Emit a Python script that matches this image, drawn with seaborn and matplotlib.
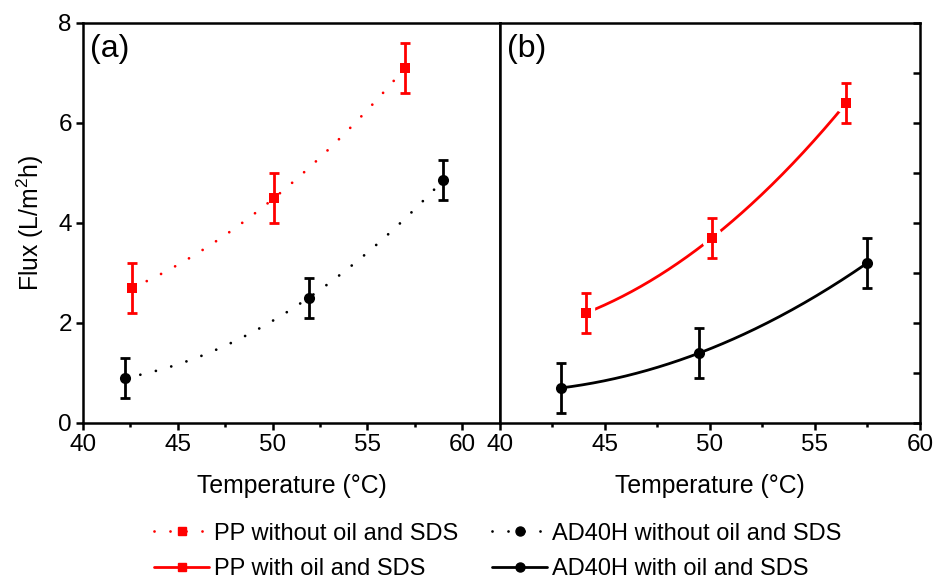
import numpy as np
import pandas as pd
import matplotlib
matplotlib.use("Agg")
import matplotlib.pyplot as plt
from matplotlib.lines import Line2D
from matplotlib.ticker import MultipleLocator
import seaborn as sns

# ---- data ----
# panel (a): without oil and SDS
pp_a_T = [42.6, 50.1, 57.0]
pp_a_flux = [2.7, 4.5, 7.1]
pp_a_err = [0.5, 0.5, 0.5]
ad_a_T = [42.2, 51.9, 59.0]
ad_a_flux = [0.9, 2.5, 4.85]
ad_a_err = [0.4, 0.4, 0.4]
# panel (b): with oil and SDS
pp_b_T = [44.1, 50.1, 56.5]
pp_b_flux = [2.2, 3.7, 6.4]
pp_b_err = [0.4, 0.4, 0.4]
ad_b_T = [42.9, 49.5, 57.5]
ad_b_flux = [0.7, 1.4, 3.2]
ad_b_err = [0.5, 0.5, 0.5]

legend_labels = ["PP without oil and SDS", "PP with oil and SDS",
                 "AD40H without oil and SDS", "AD40H with oil and SDS"]

sns.set_theme(style="ticks")
plt.rcParams["font.family"] = ["Liberation Sans", "DejaVu Sans"]
plt.rcParams["mathtext.fontset"] = "custom"
plt.rcParams["mathtext.rm"] = "Liberation Sans"
for k in ("text.color", "axes.labelcolor", "xtick.color", "ytick.color", "axes.edgecolor"):
    plt.rcParams[k] = "black"

RED = "#ff0000"
BLACK = "#000000"
LW = 2.0
DOT = (0, (0.01, 11.5 / LW))
SQ_S, CI_S = 50, 64


def fit_curve(x, y):
    """smooth fitted curve through the measured points"""
    c = np.polyfit(x, y, 2)
    xs = np.linspace(min(x), max(x), 200)
    return pd.DataFrame({"T": xs, "flux": np.polyval(c, xs)})


def draw_series(ax, T, flux, err, color, marker, s, dotted, halo=False):
    fit = fit_curve(T, flux)
    sns.lineplot(data=fit, x="T", y="flux", ax=ax, color=color, lw=LW,
                 zorder=2, legend=False)
    ln = ax.lines[-1]
    if dotted:
        ln.set_linestyle(DOT)
        ln.set_dash_capstyle("round")
    pts = pd.DataFrame({"T": T, "flux": flux})
    if halo:
        sns.scatterplot(data=pts, x="T", y="flux", ax=ax, color="white", marker=marker,
                        s=s, edgecolor="white", linewidth=6, zorder=2.5, legend=False)
    ax.errorbar(T, flux, yerr=err, fmt="none", ecolor=color, elinewidth=2.0,
                capsize=3.4, capthick=2.0, zorder=3)
    sns.scatterplot(data=pts, x="T", y="flux", ax=ax, color=color, marker=marker,
                    s=s, edgecolor=color, linewidth=0, zorder=4, legend=False)


fig = plt.figure(figsize=(9.46, 5.80), dpi=100)
ax1 = fig.add_axes([0.0877, 0.2707, 0.4408, 0.6902])
ax2 = fig.add_axes([0.5285, 0.2707, 0.4440, 0.6902])

draw_series(ax1, pp_a_T, pp_a_flux, pp_a_err, RED, "s", SQ_S, True)
draw_series(ax1, ad_a_T, ad_a_flux, ad_a_err, BLACK, "o", CI_S, True)
draw_series(ax2, pp_b_T, pp_b_flux, pp_b_err, RED, "s", SQ_S, False, halo=True)
draw_series(ax2, ad_b_T, ad_b_flux, ad_b_err, BLACK, "o", CI_S, False)

TICK_FS = 17.5
LABEL_FS = 17.8

# panel (a) axes
ax1.set_xlim(40, 62)
ax1.set_ylim(0, 8)
ax1.set_xticks([40, 45, 50, 55, 60])
ax1.xaxis.set_minor_locator(MultipleLocator(2.5))
ax1.yaxis.set_major_locator(MultipleLocator(2))
ax1.tick_params(axis="both", which="major", direction="out", length=5, width=1.8,
                labelsize=TICK_FS, pad=3)
ax1.tick_params(axis="x", which="minor", direction="out", length=3, width=1.8)
ax1.tick_params(axis="y", which="minor", length=0)
ax1.set_xlabel("Temperature (°C)", fontsize=LABEL_FS, labelpad=13)
ax1.set_ylabel(r"Flux (L/m$^{\mathregular{2}}$h)", fontsize=LABEL_FS, labelpad=9)

# panel (b) axes
ax2.set_xlim(40, 60)
ax2.set_ylim(0, 8)
ax2.xaxis.set_major_locator(MultipleLocator(5))
ax2.xaxis.set_minor_locator(MultipleLocator(2.5))
ax2.yaxis.tick_right()
ax2.yaxis.set_major_locator(MultipleLocator(1))
ax2.tick_params(axis="x", which="major", direction="out", length=5, width=1.8,
                labelsize=TICK_FS, pad=3)
ax2.tick_params(axis="x", which="minor", direction="out", length=3, width=1.8)
ax2.tick_params(axis="y", which="both", direction="in", length=5, width=1.8,
                right=True, left=False, labelright=False, labelleft=False)
ax2.set_xlabel("Temperature (°C)", fontsize=LABEL_FS, labelpad=13)
ax2.set_ylabel("")

for ax in (ax1, ax2):
    for sp in ax.spines.values():
        sp.set_visible(True)
        sp.set_linewidth(1.8)
        sp.set_color("black")

ax1.text(0.017, 0.972, "(a)", transform=ax1.transAxes, fontsize=23, va="top", ha="left")
ax2.text(0.017, 0.972, "(b)", transform=ax2.transAxes, fontsize=23, va="top", ha="left")

handles = [
    Line2D([], [], color=RED, ls=DOT, lw=LW, marker="s", ms=6, dash_capstyle="round"),
    Line2D([], [], color=RED, ls="-", lw=LW, marker="s", ms=6),
    Line2D([], [], color=BLACK, ls=DOT, lw=LW, marker="o", ms=6.5, dash_capstyle="round"),
    Line2D([], [], color=BLACK, ls="-", lw=LW, marker="o", ms=6.5),
]
fig.legend(handles, legend_labels, ncol=2, loc="center",
           bbox_to_anchor=(0.526, 0.049), frameon=False, fontsize=17,
           handlelength=2.33, handletextpad=0.2, columnspacing=1.44,
           labelspacing=0.58, numpoints=1, borderpad=0.2)

fig.savefig("out.png", dpi=100)
